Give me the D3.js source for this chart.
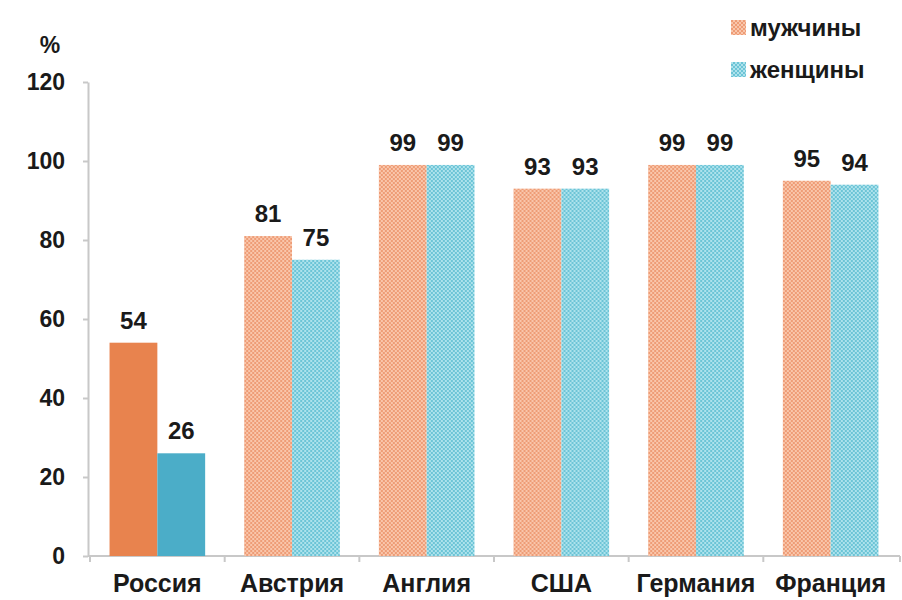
<!DOCTYPE html>
<html>
<head>
<meta charset="utf-8">
<script src="https://cdn.jsdelivr.net/npm/d3@7"></script>
<style>
  body { margin: 0; background: #fff; }
  text { font-family: Arial, "Liberation Sans", sans-serif; font-weight: bold; fill: #1a1a1a; }
  .axis path, .axis line { stroke: #c8c8c8; stroke-width: 2; }
</style>
</head>
<body>
<svg id="chart" width="902" height="600"></svg>
<script>
const countries = ['Россия', 'Австрия', 'Англия', 'США', 'Германия', 'Франция'];
const men = [54, 81, 99, 93, 99, 95];
const women = [26, 75, 99, 93, 99, 94];
const seriesNames = ['мужчины', 'женщины'];
const yTicks = [0, 20, 40, 60, 80, 100, 120];

const svg = d3.select('#chart');
const defs = svg.append('defs');

// checker patterns for the hatched bars
function checker(id, base, dot) {
  const p = defs.append('pattern').attr('id', id)
    .attr('width', 4).attr('height', 4).attr('patternUnits', 'userSpaceOnUse');
  p.append('rect').attr('width', 4).attr('height', 4).attr('fill', base);
  p.append('rect').attr('width', 2).attr('height', 2).attr('fill', dot);
  p.append('rect').attr('x', 2).attr('y', 2).attr('width', 2).attr('height', 2).attr('fill', dot);
}
checker('hatchM', '#f9c6ab', '#ee9c76');
checker('hatchW', '#ade2ec', '#6cc4d6');

const solid = { m: '#e8834e', w: '#4badc8' };

const x0 = 88, x1 = 900, yTop = 82, yBot = 556;
const x = d3.scaleBand().domain(countries).range([x0, x1]).paddingInner(0.29).paddingOuter(0.16);
const xs = d3.scaleBand().domain(['m', 'w']).range([0, x.bandwidth()]);
const y = d3.scaleLinear().domain([0, 120]).range([yBot, yTop]);

// y axis
const ya = svg.append('g').attr('class', 'axis').attr('transform', `translate(${x0},0)`)
  .call(d3.axisLeft(y).tickValues(yTicks).tickSize(5).tickSizeOuter(0).tickPadding(18));
ya.selectAll('text').style('font-size', '23px').style('font-family', 'Arial, "Liberation Sans", sans-serif').attr('fill', '#1a1a1a');

// x axis: ticks between categories
const xa = svg.append('g').attr('class', 'axis').attr('transform', `translate(0,${yBot})`);
xa.append('line').attr('x1', x0).attr('x2', x1).attr('y1', 0).attr('y2', 0);
const step = x.step();
const bounds = countries.map((c, i) => x(c) - x.paddingInner() * step / 2).concat([x1]);
xa.selectAll('line.tk').data(bounds).join('line').attr('class', 'tk')
  .attr('x1', d => d).attr('x2', d => d).attr('y1', 0).attr('y2', 6);
xa.selectAll('text').data(countries).join('text')
  .attr('x', d => x(d) + x.bandwidth() / 2).attr('y', 36)
  .attr('text-anchor', 'middle').style('font-size', '25px').text(d => d);

svg.append('text').attr('x', 50).attr('y', 53).attr('text-anchor', 'middle')
  .style('font-size', '23px').text('%');

const rows = countries.map((c, i) => ({ c, i, m: men[i], w: women[i] }));
const g = svg.selectAll('g.grp').data(rows).join('g').attr('class', 'grp')
  .attr('transform', d => `translate(${x(d.c)},0)`);

['m', 'w'].forEach(k => {
  g.append('rect')
    .attr('x', xs(k)).attr('width', xs.bandwidth())
    .attr('y', d => y(d[k])).attr('height', d => yBot - y(d[k]))
    .attr('fill', d => d.i === 0 ? solid[k] : (k === 'm' ? 'url(#hatchM)' : 'url(#hatchW)'));
  g.append('text')
    .attr('x', xs(k) + xs.bandwidth() / 2).attr('y', d => y(d[k]) - 14)
    .attr('text-anchor', 'middle').style('font-size', '24px')
    .text(d => d[k]);
});

// legend
const lg = svg.append('g').attr('transform', 'translate(731,0)');
seriesNames.forEach((n, i) => {
  const yy = 28 + i * 42;
  lg.append('rect').attr('x', 0).attr('y', yy - 8).attr('width', 15).attr('height', 15)
    .attr('fill', i === 0 ? 'url(#hatchM)' : 'url(#hatchW)');
  lg.append('text').attr('x', 19).attr('y', yy + 8).style('font-size', '24px').text(n);
});
</script>
</body>
</html>
